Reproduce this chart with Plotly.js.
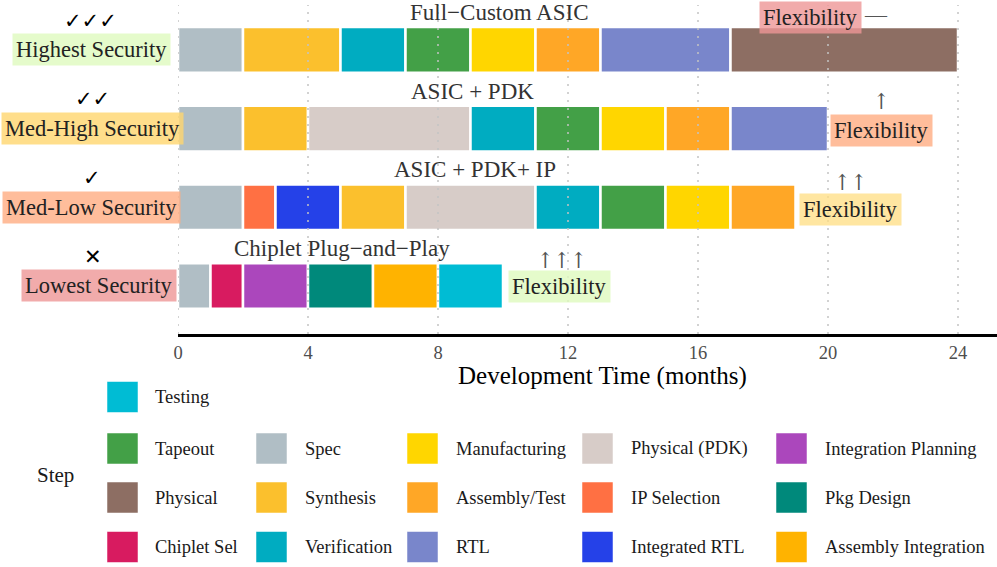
<!DOCTYPE html>
<html>
<head>
<meta charset="utf-8">
<script src="https://cdn.plot.ly/plotly-3.0.1.min.js"></script>
<style>
  html, body { margin: 0; padding: 0; background: #fff; }
  #chart { width: 997px; height: 567px; }
</style>
</head>
<body>
<div id="chart"></div>
<script>
// rows, bottom (1) to top (4)
var rowNames = ["Chiplet Plug−and−Play", "ASIC + PDK+ IP", "ASIC + PDK", "Full−Custom ASIC"];
var securityLabels = ["Lowest Security", "Med-Low Security", "Med-High Security", "Highest Security"];
var securityMarks = ["✕", "✓", "✓✓", "✓✓✓"];
var flexArrows = ["↑↑↑", "↑↑", "↑", "—"];

// steps and durations (months) per row, in drawing order
var chipletSteps = ["Spec", "Chiplet Sel", "Integration Planning", "Pkg Design", "Assembly Integration", "Testing"];
var chipletMonths = [1, 1, 2, 2, 2, 2];
var pdkIpSteps = ["Spec", "IP Selection", "Integrated RTL", "Synthesis", "Physical (PDK)", "Verification", "Tapeout", "Manufacturing", "Assembly/Test"];
var pdkIpMonths = [2, 1, 2, 2, 4, 2, 2, 2, 2];
var pdkSteps = ["Spec", "Synthesis", "Physical (PDK)", "Verification", "Tapeout", "Manufacturing", "Assembly/Test", "RTL"];
var pdkMonths = [2, 2, 5, 2, 2, 2, 2, 3];
var fullSteps = ["Spec", "Synthesis", "Verification", "Tapeout", "Manufacturing", "Assembly/Test", "RTL", "Physical"];
var fullMonths = [2, 3, 2, 2, 2, 2, 4, 7];

var xTicks = [0, 4, 8, 12, 16, 20, 24];

// legend grid, as in the picture
var legendRows = [
  ["Testing"],
  ["Tapeout", "Spec", "Manufacturing", "Physical (PDK)", "Integration Planning"],
  ["Physical", "Synthesis", "Assembly/Test", "IP Selection", "Pkg Design"],
  ["Chiplet Sel", "Verification", "RTL", "Integrated RTL", "Assembly Integration"]
];

var stepColors = {
  "Spec": "#B0BEC5",
  "Synthesis": "#FBC02D",
  "Verification": "#00ACC1",
  "Tapeout": "#43A047",
  "Manufacturing": "#FFD600",
  "Assembly/Test": "#FFA726",
  "RTL": "#7986CB",
  "Physical": "#8D6E63",
  "Physical (PDK)": "#D7CCC8",
  "IP Selection": "#FF7043",
  "Integrated RTL": "#2541E8",
  "Chiplet Sel": "#D81B60",
  "Integration Planning": "#AB47BC",
  "Pkg Design": "#00897B",
  "Assembly Integration": "#FFB300",
  "Testing": "#00BCD4"
};
var secColors = ["rgba(238,150,150,0.8)", "rgba(255,172,130,0.8)", "rgba(255,214,110,0.8)", "rgba(222,250,190,0.8)"];
var flexColors = ["rgba(222,250,190,0.8)", "rgba(255,222,130,0.75)", "rgba(255,172,130,0.8)", "rgba(238,150,150,0.8)"];

var font = "Liberation Serif, Times New Roman, serif";

// plot area in pixels
var L = 178, R = 997, T = 5, B = 334;
function px(x) { return (x - L) / (R - L); }
function py(y) { return (B - y) / (B - T); }

var rows = [
  [chipletSteps, chipletMonths],
  [pdkIpSteps, pdkIpMonths],
  [pdkSteps, pdkMonths],
  [fullSteps, fullMonths]
];

var traces = {};
rows.forEach(function(r, i) {
  var start = 0;
  for (var k = 0; k < r[0].length; k++) {
    var s = r[0][k];
    if (!traces[s]) {
      traces[s] = {
        type: "bar", orientation: "h", name: s,
        x: [], y: [], base: [], width: 0.58,
        marker: { color: stepColors[s], line: { color: "white", width: 2.5 } },
        showlegend: false, hoverinfo: "skip"
      };
    }
    traces[s].x.push(r[1][k]);
    traces[s].base.push(start);
    traces[s].y.push(i + 1);
    start += r[1][k];
  }
});
var data = Object.keys(traces).map(function(k) { return traces[k]; });

var shapes = [];
xTicks.forEach(function(t) {
  shapes.push({
    type: "line", xref: "x", yref: "paper", x0: t, x1: t, y0: 0, y1: 1,
    layer: "above", line: { color: "#c4c4c4", width: 1.5, dash: "2px,6px" }
  });
});

var annotations = [];
function ann(o) {
  o.showarrow = false;
  o.xanchor = o.xanchor || "center";
  o.yanchor = "middle";
  annotations.push(o);
}
// row titles
var titleX = [5.05, 9.15, 9.05, 9.9];
rowNames.forEach(function(n, i) {
  ann({
    text: n, x: titleX[i], y: i + 1 + 0.475, xref: "x", yref: "y",
    font: { family: font, size: 23, color: "#333" }
  });
});
// security labels + marks on the left
var secX = [99, 91, 92, 91];
var markX = [93, 92, 92, 90];
securityLabels.forEach(function(n, i) {
  ann({
    text: n, x: px(secX[i]), y: i + 1, xref: "paper", yref: "y",
    bgcolor: secColors[i], borderpad: 3,
    font: { family: font, size: 22.5, color: "#222" }
  });
  ann({
    text: securityMarks[i], x: px(markX[i]), y: i + 1 + 0.37, xref: "paper", yref: "y",
    font: { family: "DejaVu Sans", size: 21, color: "#000", weight: "bold" }
  });
});
// flexibility labels
var flexX = [11.75, 20.68, 21.66, 19.45];
var flexY = [0.99, 1.97, 2.97, 4.41];
var arrowX = [11.82, 20.7, 21.66, 21.48];
var arrowY = [1.33, 2.32, 3.35, 4.445];
flexArrows.forEach(function(a, i) {
  ann({
    text: "Flexibility", x: flexX[i], y: flexY[i], xref: "x", yref: "y",
    bgcolor: flexColors[i], borderpad: 3,
    font: { family: font, size: 22.5, color: "#222" }
  });
  ann({
    text: a, x: arrowX[i], y: arrowY[i], xref: "x", yref: "y",
    font: { family: i === 3 ? font : "DejaVu Serif Condensed, DejaVu Serif", size: i === 3 ? 22 : 22, color: "#555" }
  });
});
// x axis title
ann({
  text: "Development Time (months)", x: 13.05, y: py(376), xref: "x", yref: "paper",
  font: { family: font, size: 25, color: "#000" }
});

// legend drawn by hand
var keyX = [107, 256, 407, 582, 776];
var textX = [153, 303, 454, 629, 823];
var rowY = [397, 448.5, 497.5, 547];
var ks = 31;
legendRows.forEach(function(r, ri) {
  r.forEach(function(s, ci) {
    shapes.push({
      type: "rect", xref: "paper", yref: "paper",
      x0: px(keyX[ci]), x1: px(keyX[ci] + ks), y0: py(rowY[ri] + ks / 2), y1: py(rowY[ri] - ks / 2),
      fillcolor: stepColors[s], line: { color: "rgba(255,255,255,0.5)", width: 1 }
    });
    ann({
      text: s, x: px(textX[ci]), y: py(rowY[ri]), xref: "paper", yref: "paper",
      xanchor: "left", font: { family: font, size: 18.5, color: "#1a1a1a" }
    });
  });
});
ann({
  text: "Step", x: px(55), y: py(475), xref: "paper", yref: "paper",
  font: { family: font, size: 21, color: "#1a1a1a" }
});

var layout = {
  width: 997, height: 567,
  margin: { l: L, r: 997 - R, t: T, b: 567 - B },
  paper_bgcolor: "white", plot_bgcolor: "white",
  barmode: "overlay",
  xaxis: {
    range: [0, 25.2], tickvals: xTicks, ticks: "", showgrid: false, zeroline: false,
    showline: true, linecolor: "#000", linewidth: 2.5,
    tickfont: { family: font, size: 18.5, color: "#4d4d4d" }
  },
  yaxis: { range: [0.39, 4.57], visible: false, showgrid: false, zeroline: false },
  shapes: shapes,
  annotations: annotations,
  showlegend: false
};

Plotly.newPlot("chart", data, layout, { displayModeBar: false, staticPlot: true });
</script>
</body>
</html>
